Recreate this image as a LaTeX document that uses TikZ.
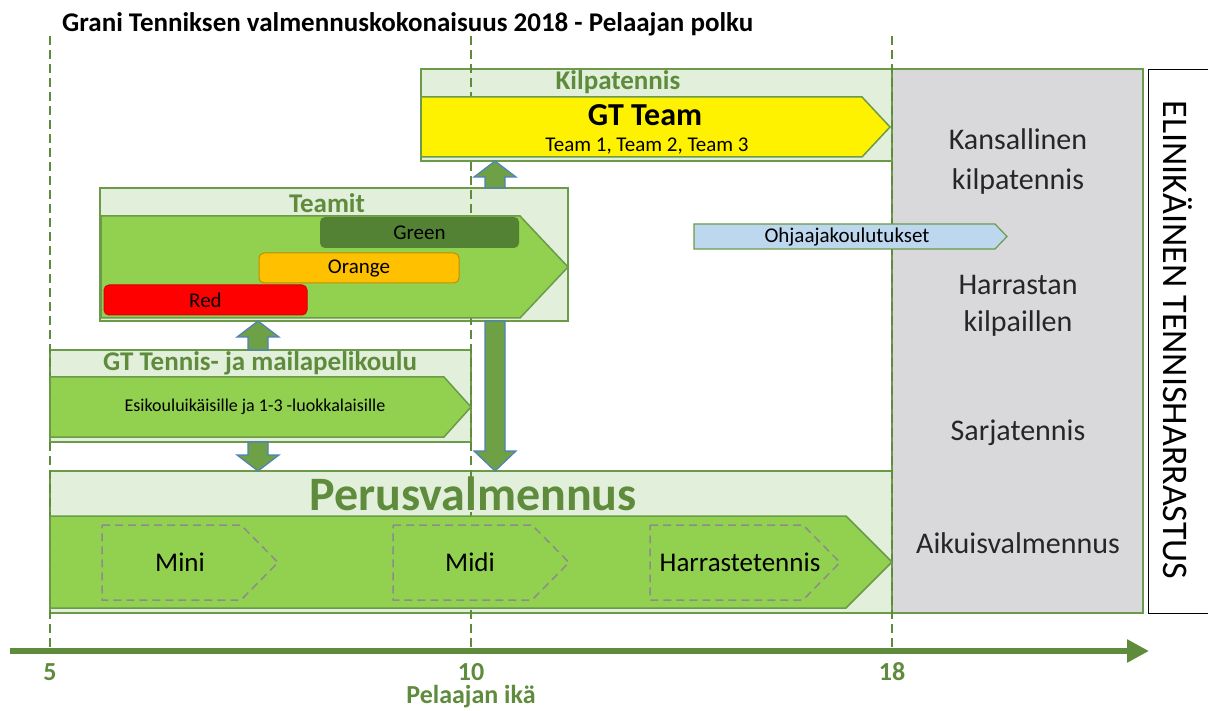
\documentclass[tikz,border=0pt]{standalone}
\usepackage{fontspec}
\setmainfont{Carlito}
\usetikzlibrary{calc,arrows.meta}
\definecolor{pfill}{HTML}{E2EFDA}
\definecolor{pline}{HTML}{6B9A48}
\definecolor{gtxt}{HTML}{5E8C3C}
\definecolor{afill}{HTML}{92D050}
\definecolor{bfill}{HTML}{6EA046}
\definecolor{bline}{HTML}{4F81BD}
\definecolor{dgreen}{HTML}{548235}
\definecolor{orng}{HTML}{FFC000}
\definecolor{gpan}{HTML}{D9D9DB}
\definecolor{lblue}{HTML}{BDD7EE}
\definecolor{dashg}{HTML}{8C8C8C}
\newcommand\fsz[1]{\fontsize{#1}{#1}\selectfont}
\newcommand\pentof[3]{\draw[#3] (#1.north west) -- ($(#1.north east)+(-#2,0)$) -- (#1.east) -- ($(#1.south east)+(-#2,0)$) -- (#1.south west) -- cycle;}
\newcommand\bkarrow[3]{\path[blockar] let \p1=(#1), \p2=(#2), \n1={sign(\y2-\y1)*#3} in (\x1-10pt,\y1) -- (\x1-10pt,{\y2-\n1*1pt}) -- (\x1-21pt,{\y2-\n1*1pt}) -- (\x1,\y2) -- (\x1+21pt,{\y2-\n1*1pt}) -- (\x1+10pt,{\y2-\n1*1pt}) -- (\x1+10pt,\y1) -- cycle;}
\tikzset{
  x=1pt, y=-1pt,
  panel/.style={draw=pline, line width=1.5pt, fill=pfill, anchor=north west, inner sep=0, outer sep=0},
  region/.style={anchor=north west, inner sep=0, outer sep=0},
  ptitle/.style={text=gtxt, font=\bfseries\fsz{27}, inner sep=0},
  greenarr/.style={draw=pline, line width=1.5pt, fill=afill},
  yelarr/.style={draw=pline, line width=1.5pt, fill=yellow},
  bluearr/.style={draw=pline, line width=1.2pt, fill=lblue},
  dashpent/.style={draw=dashg, line width=1.5pt, dash pattern=on 8pt off 5pt},
  blockar/.style={draw=bline, line width=1.2pt, fill=bfill},
  bar/.style={rounded corners=5pt, line width=1pt, anchor=north west, inner sep=0, outer sep=0},
  vdash/.style={draw=gtxt, line width=1.5pt, dash pattern=on 9pt off 5pt},
  side/.style={align=center, inner sep=0, text=black!85},
  axlab/.style={text=gtxt, font=\bfseries\fsz{26}, inner sep=0},
  lbl/.style={font=\fsz{21}, inner sep=0},
}
\begin{document}
\begin{tikzpicture}
\clip (0,0) rectangle (1208,711);
\fill[white] (0,0) rectangle (1208,711);

% title
\node[anchor=base west, inner sep=0, font=\bfseries\fsz{27}] (title) at (62,32) {Grani Tenniksen valmennuskokonaisuus 2018 - Pelaajan polku};

% panels
\node[panel, minimum width=471, minimum height=92] (kilp) at (421,69) {};
\node[panel, minimum width=468, minimum height=133] (teamit) at (100,188) {};
\node[panel, minimum width=421, minimum height=92] (gtt) at (50,350) {};
\node[panel, minimum width=842, minimum height=142] (perus) at (50,471) {};
\node[panel, fill=gpan, minimum width=251, minimum height=544] (gray) at (892,69) {};
\node[draw=black, line width=1.2pt, anchor=north west, inner sep=0, minimum width=80, minimum height=544] (life) at (1148,69) {};

% age guide lines
\coordinate (a5) at (50,651);
\coordinate (a10) at (471,651);
\coordinate (a18) at (892,651);
\coordinate (t5) at (50,36);
\coordinate (t10) at (471,36);
\coordinate (t18) at (892,36);
\draw[vdash] (t5) -- (a5);
\draw[vdash] (t10) -- (a10);
\draw[vdash] (t18) -- (a18);

% panel titles
\node[ptitle] (kilpt) at (618,82) {Kilpatennis};
\node[ptitle] (teamitt) at (327,203) {Teamit};
\node[ptitle] (gttt) at (260,363) {GT Tennis- ja mailapelikoulu};
\node[ptitle, font=\bfseries\fsz{48}] (perust) at (473,494) {Perusvalmennus};

% GT Team arrow
\node[region, minimum width=469, minimum height=60] (gtteam) at (421,97) {};
\pentof{gtteam}{28}{yelarr}
\node[font=\bfseries\fsz{32}, inner sep=0] (gtteamt) at (645,115) {GT Team};
\node[lbl] (teams) at (647,146) {Team 1, Team 2, Team 3};

% Teamit arrow
\node[region, minimum width=467, minimum height=102] (tarr) at (101,216) {};
\pentof{tarr}{48}{greenarr}
\node[bar, fill=dgreen, minimum width=199, minimum height=31] (green) at (320,217) {};
\node[lbl] at (green.center) {Green};
\node[bar, fill=orng, draw=orng!75!black, minimum width=200, minimum height=30] (orange) at (259,253) {};
\node[lbl] at (orange.center) {Orange};
\node[bar, fill=red, draw=red!85!black, minimum width=203, minimum height=30] (redb) at (104,285) {};
\node[lbl] at (redb.center) {Red};

% GT Tennis arrow
\node[region, minimum width=421, minimum height=60] (garr) at (50,377) {};
\pentof{garr}{27}{greenarr}
\node[font=\fsz{18}, inner sep=0] (esik) at (255,407) {Esikouluikäisille ja 1-3 -luokkalaisille};

% Perus arrow
\node[region, minimum width=842, minimum height=92] (parr) at (50,516) {};
\pentof{parr}{46}{greenarr}
\node[region, minimum width=176, minimum height=75] (mini) at (102,525) {};
\pentof{mini}{37}{dashpent}
\node[region, minimum width=176, minimum height=75] (midi) at (393,525) {};
\pentof{midi}{37}{dashpent}
\node[region, minimum width=190, minimum height=75] (harr) at (650,525) {};
\pentof{harr}{37}{dashpent}
\node[font=\fsz{27}, inner sep=0] at (180,562) {Mini};
\node[font=\fsz{27}, inner sep=0] at (470,562) {Midi};
\node[font=\fsz{27}, inner sep=0] at (740,562) {Harrastetennis};

% Ohjaajakoulutukset
\node[region, minimum width=313, minimum height=25] (ohj) at (694,224) {};
\pentof{ohj}{12}{bluearr}
\node[lbl] at (847,237) {Ohjaajakoulutukset};

% gray panel texts
\node[side, font=\fontsize{30}{40}\selectfont] at (1018,162) {Kansallinen\\kilpatennis};
\node[side, font=\fontsize{30}{37}\selectfont] at (1018,306) {Harrastan\\kilpaillen};
\node[side, font=\fsz{30}] at (1018,433) {Sarjatennis};
\node[side, font=\fsz{30}] at (1018,543) {Aikuisvalmennus};
\node[rotate=-90, font=\fsz{36}, inner sep=0] at (1178,340) {ELINIKÄINEN TENNISHARRASTUS};

% block arrows between panels
\coordinate (b1s) at (teamit.north -| 495,0);
\coordinate (b1e) at (kilp.south -| 495,0);
\bkarrow{b1s}{b1e}{16}
\coordinate (b2s) at (gtt.north -| 258,0);
\coordinate (b2e) at (teamit.south -| 258,0);
\bkarrow{b2s}{b2e}{16}
\coordinate (b3s) at (gtt.south -| 258,0);
\coordinate (b3e) at (perus.north -| 258,0);
\bkarrow{b3s}{b3e}{16}
\coordinate (b4s) at (teamit.south -| 495,0);
\coordinate (b4e) at (perus.north -| 495,0);
\bkarrow{b4s}{b4e}{20}

% axis
\coordinate (ax0) at (10,651);
\coordinate (ax1) at (1149,651);
\draw[draw=gtxt, line width=6pt, -{Triangle[length=22pt,width=22pt]}] (ax0) -- (ax1);
\node[axlab] at (50,672) {5};
\node[axlab] at (471,672) {10};
\node[axlab] at (892,672) {18};
\node[axlab] at (471,697) {Pelaajan ikä};
\end{tikzpicture}
\end{document}
